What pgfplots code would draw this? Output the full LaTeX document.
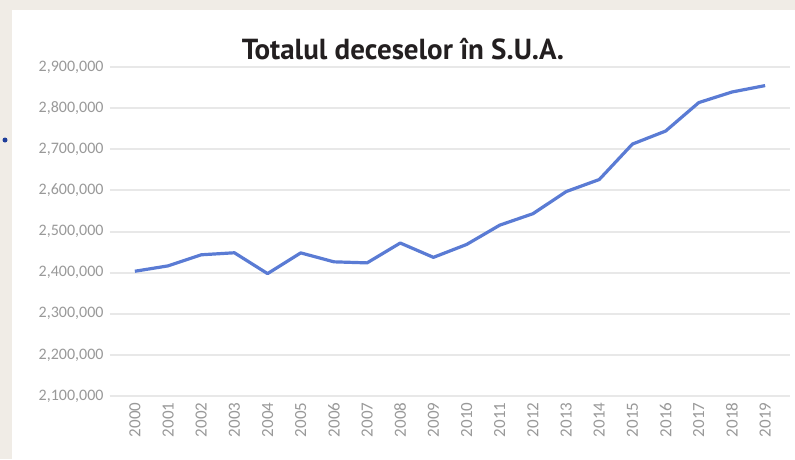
\documentclass[border=0pt]{standalone}
\usepackage{pgfplots}
\pgfplotsset{compat=1.18}
\usepackage{fontspec}
\setmainfont{Carlito}
\newfontfamily\titlefont{PT Sans}
\definecolor{bgbeige}{HTML}{F0ECE6}
\definecolor{gridgray}{HTML}{E8E8E8}
\definecolor{labgray}{HTML}{999999}
\definecolor{lineblue}{HTML}{5A7BD4}
\definecolor{titlecol}{HTML}{231F20}
\definecolor{dotblue}{HTML}{1F3E9A}
\pgfplotstableread{
x year deaths
0 2000 2403351
1 2001 2416425
2 2002 2443387
3 2003 2448288
4 2004 2397615
5 2005 2448017
6 2006 2426264
7 2007 2423712
8 2008 2471984
9 2009 2437163
10 2010 2468435
11 2011 2515458
12 2012 2543279
13 2013 2596993
14 2014 2626418
15 2015 2712630
16 2016 2744248
17 2017 2813503
18 2018 2839205
19 2019 2854838
}\deaths
\begin{document}
\begin{tikzpicture}
\fill[bgbeige] (0pt,0pt) rectangle (795pt,459pt);
\fill[white] (12pt,0pt) rectangle (795pt,449pt);
\fill[dotblue] (5pt,319pt) circle (2.5pt);
\begin{axis}[
  at={(110pt,63pt)}, anchor=south west,
  scale only axis, width=680pt, height=329pt,
  xmin=-0.75, xmax=19.75,
  ymin=2100000, ymax=2900000,
  ytick={2100000,2200000,2300000,2400000,2500000,2600000,2700000,2800000,2900000},
  xtick={0,...,19},
  xticklabels={2000,2001,2002,2003,2004,2005,2006,2007,2008,2009,2010,2011,2012,2013,2014,2015,2016,2017,2018,2019},
  scaled y ticks=false,
  ticklabel style={text=labgray},
  yticklabel style={font=\fontsize{16}{16}\selectfont, xshift=-3pt, /pgf/number format/.cd, fixed, 1000 sep={,}, assume math mode=true},
  xticklabel style={rotate=90, anchor=east, font=\fontsize{17}{17}\selectfont, xshift=-3pt},
  major tick length=0pt,
  ymajorgrids, grid style={gridgray, line width=2pt},
  axis x line*=bottom, axis y line*=left,
  x axis line style={gridgray, line width=2pt, -},
  y axis line style={draw=none},
  clip=false,
]
\addplot[lineblue, line width=3.2pt, line join=round] table[x=x, y=deaths] {\deaths};
\end{axis}
\node[font=\titlefont\bfseries\fontsize{29}{29}\selectfont, text=titlecol] at (403pt,410pt) {Totalul deceselor în S.U.A.};
\end{tikzpicture}
\end{document}
